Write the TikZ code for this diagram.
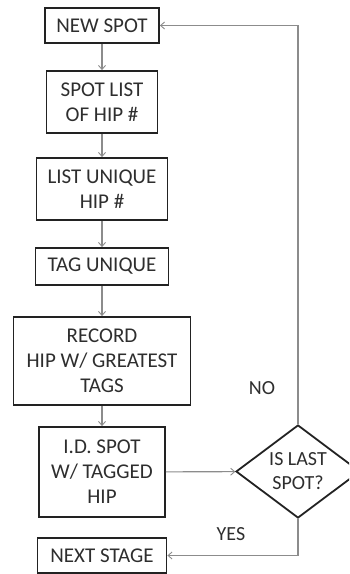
\documentclass[tikz,border=0pt]{standalone}
\usepackage{fontspec}
\setmainfont{Carlito}
\usetikzlibrary{shapes.geometric,arrows.meta}
\definecolor{boxline}{HTML}{222222}
\definecolor{txt}{HTML}{2E2E2E}
\definecolor{flow}{HTML}{8C8C8C}
\begin{document}
\begin{tikzpicture}[x=1pt,y=-1pt,
  stepbox/.style={draw=boxline,line width=1.8pt,fill=white,text=txt,
    font=\fontsize{21}{25}\selectfont,align=center,inner sep=0pt},
  decision/.style={draw=boxline,line width=1.8pt,shape=diamond,aspect=1.33,
    minimum width=124pt,minimum height=93pt,inner sep=0pt,text=txt,
    font=\fontsize{20}{24}\selectfont,align=center},
  flowline/.style={draw=flow,line width=1.1pt,
    -{Straight Barb[length=4pt,width=7pt,line width=0.9pt]}},
  tag/.style={text=txt,font=\fontsize{20}{24}\selectfont,inner sep=0pt}]
\useasboundingbox (0,0) rectangle (349,574);
\clip (0,0) rectangle (349,574);

% process boxes
\node[stepbox,minimum width=114pt,minimum height=35pt] (new) at (102,25.5) {NEW SPOT};
\node[stepbox,minimum width=111pt,minimum height=62pt] (list) at (102,102) {SPOT LIST\\OF HIP \#};
\node[stepbox,minimum width=131pt,minimum height=62pt] (uniq) at (102,189) {LIST UNIQUE\\HIP \#};
\node[stepbox,minimum width=133pt,minimum height=37pt] (tag) at (102,266.5) {TAG UNIQUE};
\node[stepbox,minimum width=177pt,minimum height=88pt] (rec) at (102,361) {RECORD\\HIP W/ GREATEST\\TAGS};
\node[stepbox,minimum width=126pt,minimum height=90pt] (ids) at (102,472) {I.D. SPOT\\W/ TAGGED\\HIP};
\node[stepbox,minimum width=129pt,minimum height=35pt] (next) at (102,555.5) {NEXT STAGE};

% decision
\node[decision] (last) at (298,471.5) {IS LAST\\SPOT?};

% main flow
\draw[flowline] (new) -- (list);
\draw[flowline] (list) -- (uniq);
\draw[flowline] (uniq) -- (tag);
\draw[flowline] (tag) -- (rec);
\draw[flowline] (rec) -- (ids);
\draw[flowline] (ids) -- (last);

% loop back and exit
\draw[flowline] (last.north) |- (new.east);
\draw[flowline] (last.south) |- (next.east);

% branch labels
\node[tag] (no) at (262,388) {NO};
\node[tag] (yes) at (231,534) {YES};
\end{tikzpicture}
\end{document}
